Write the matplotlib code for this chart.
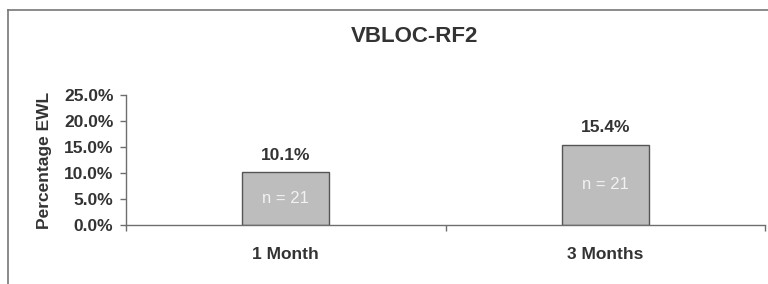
import numpy as np
import matplotlib
matplotlib.use("Agg")
import matplotlib.pyplot as plt
from matplotlib.lines import Line2D

plt.rcParams['font.family'] = ['Liberation Sans', 'DejaVu Sans']

title = "VBLOC-RF2"
categories = ["1 Month", "3 Months"]
ewl_pct = [10.1, 15.4]
n_labels = ["n = 21", "n = 21"]
yticks = [0, 5, 10, 15, 20, 25]

text_col = "#333333"
line_col = "#6e6e6e"

fig = plt.figure(figsize=(7.68, 2.84), dpi=100)
fig.patch.set_facecolor("white")

# outer frame (only left and top visible in the crop)
fig.add_artist(Line2D([8/768, 8/768], [0, 1 - 10/284], transform=fig.transFigure,
                      color="#777777", lw=1.2))
fig.add_artist(Line2D([8/768, 1], [1 - 10/284, 1 - 10/284], transform=fig.transFigure,
                      color="#777777", lw=1.2))

ax = fig.add_axes([126/768, 1 - 225/284, (765 - 126)/768, 130/284])
x = np.arange(len(categories))
bars = ax.bar(x, ewl_pct, width=0.272, color="#bdbdbd", edgecolor="#555555", linewidth=1.0, zorder=2)

ax.set_xlim(-0.5, len(categories) - 0.5)
ax.set_ylim(0, 25)
ax.set_yticks(yticks)
ax.set_yticklabels([f"{v:.1f}%" for v in yticks], fontsize=12.5, fontweight="bold", color=text_col)
ax.set_xticks(x)
ax.set_xticklabels(categories, fontsize=12.5, fontweight="bold", color=text_col)
ax.set_xticks(np.arange(-0.5, len(categories)), minor=True)
ax.tick_params(axis="x", which="major", length=0, pad=16)
ax.tick_params(axis="x", which="minor", length=4.5, width=1.0, color=line_col)
ax.tick_params(axis="y", length=4, width=1.0, color=line_col, pad=5)

for s in ["top", "right"]:
    ax.spines[s].set_visible(False)
for s in ["left", "bottom"]:
    ax.spines[s].set_color(line_col)
    ax.spines[s].set_linewidth(1.0)

for xi, v, n in zip(x, ewl_pct, n_labels):
    ax.annotate(f"{v}%", (xi, v), xytext=(0, 12.5), textcoords="offset points",
                ha="center", va="center", fontsize=12.5, fontweight="bold", color=text_col)
    ax.text(xi, v / 2, n, ha="center", va="center", fontsize=12, color="#f2f2f2")

ax.set_ylabel("Percentage EWL", fontsize=12.5, fontweight="bold", color=text_col, labelpad=9)
fig.text(415/768, 1 - 36/284, title, ha="center", va="center",
         fontsize=16, fontweight="bold", color=text_col)

fig.savefig("out.png", dpi=100)
